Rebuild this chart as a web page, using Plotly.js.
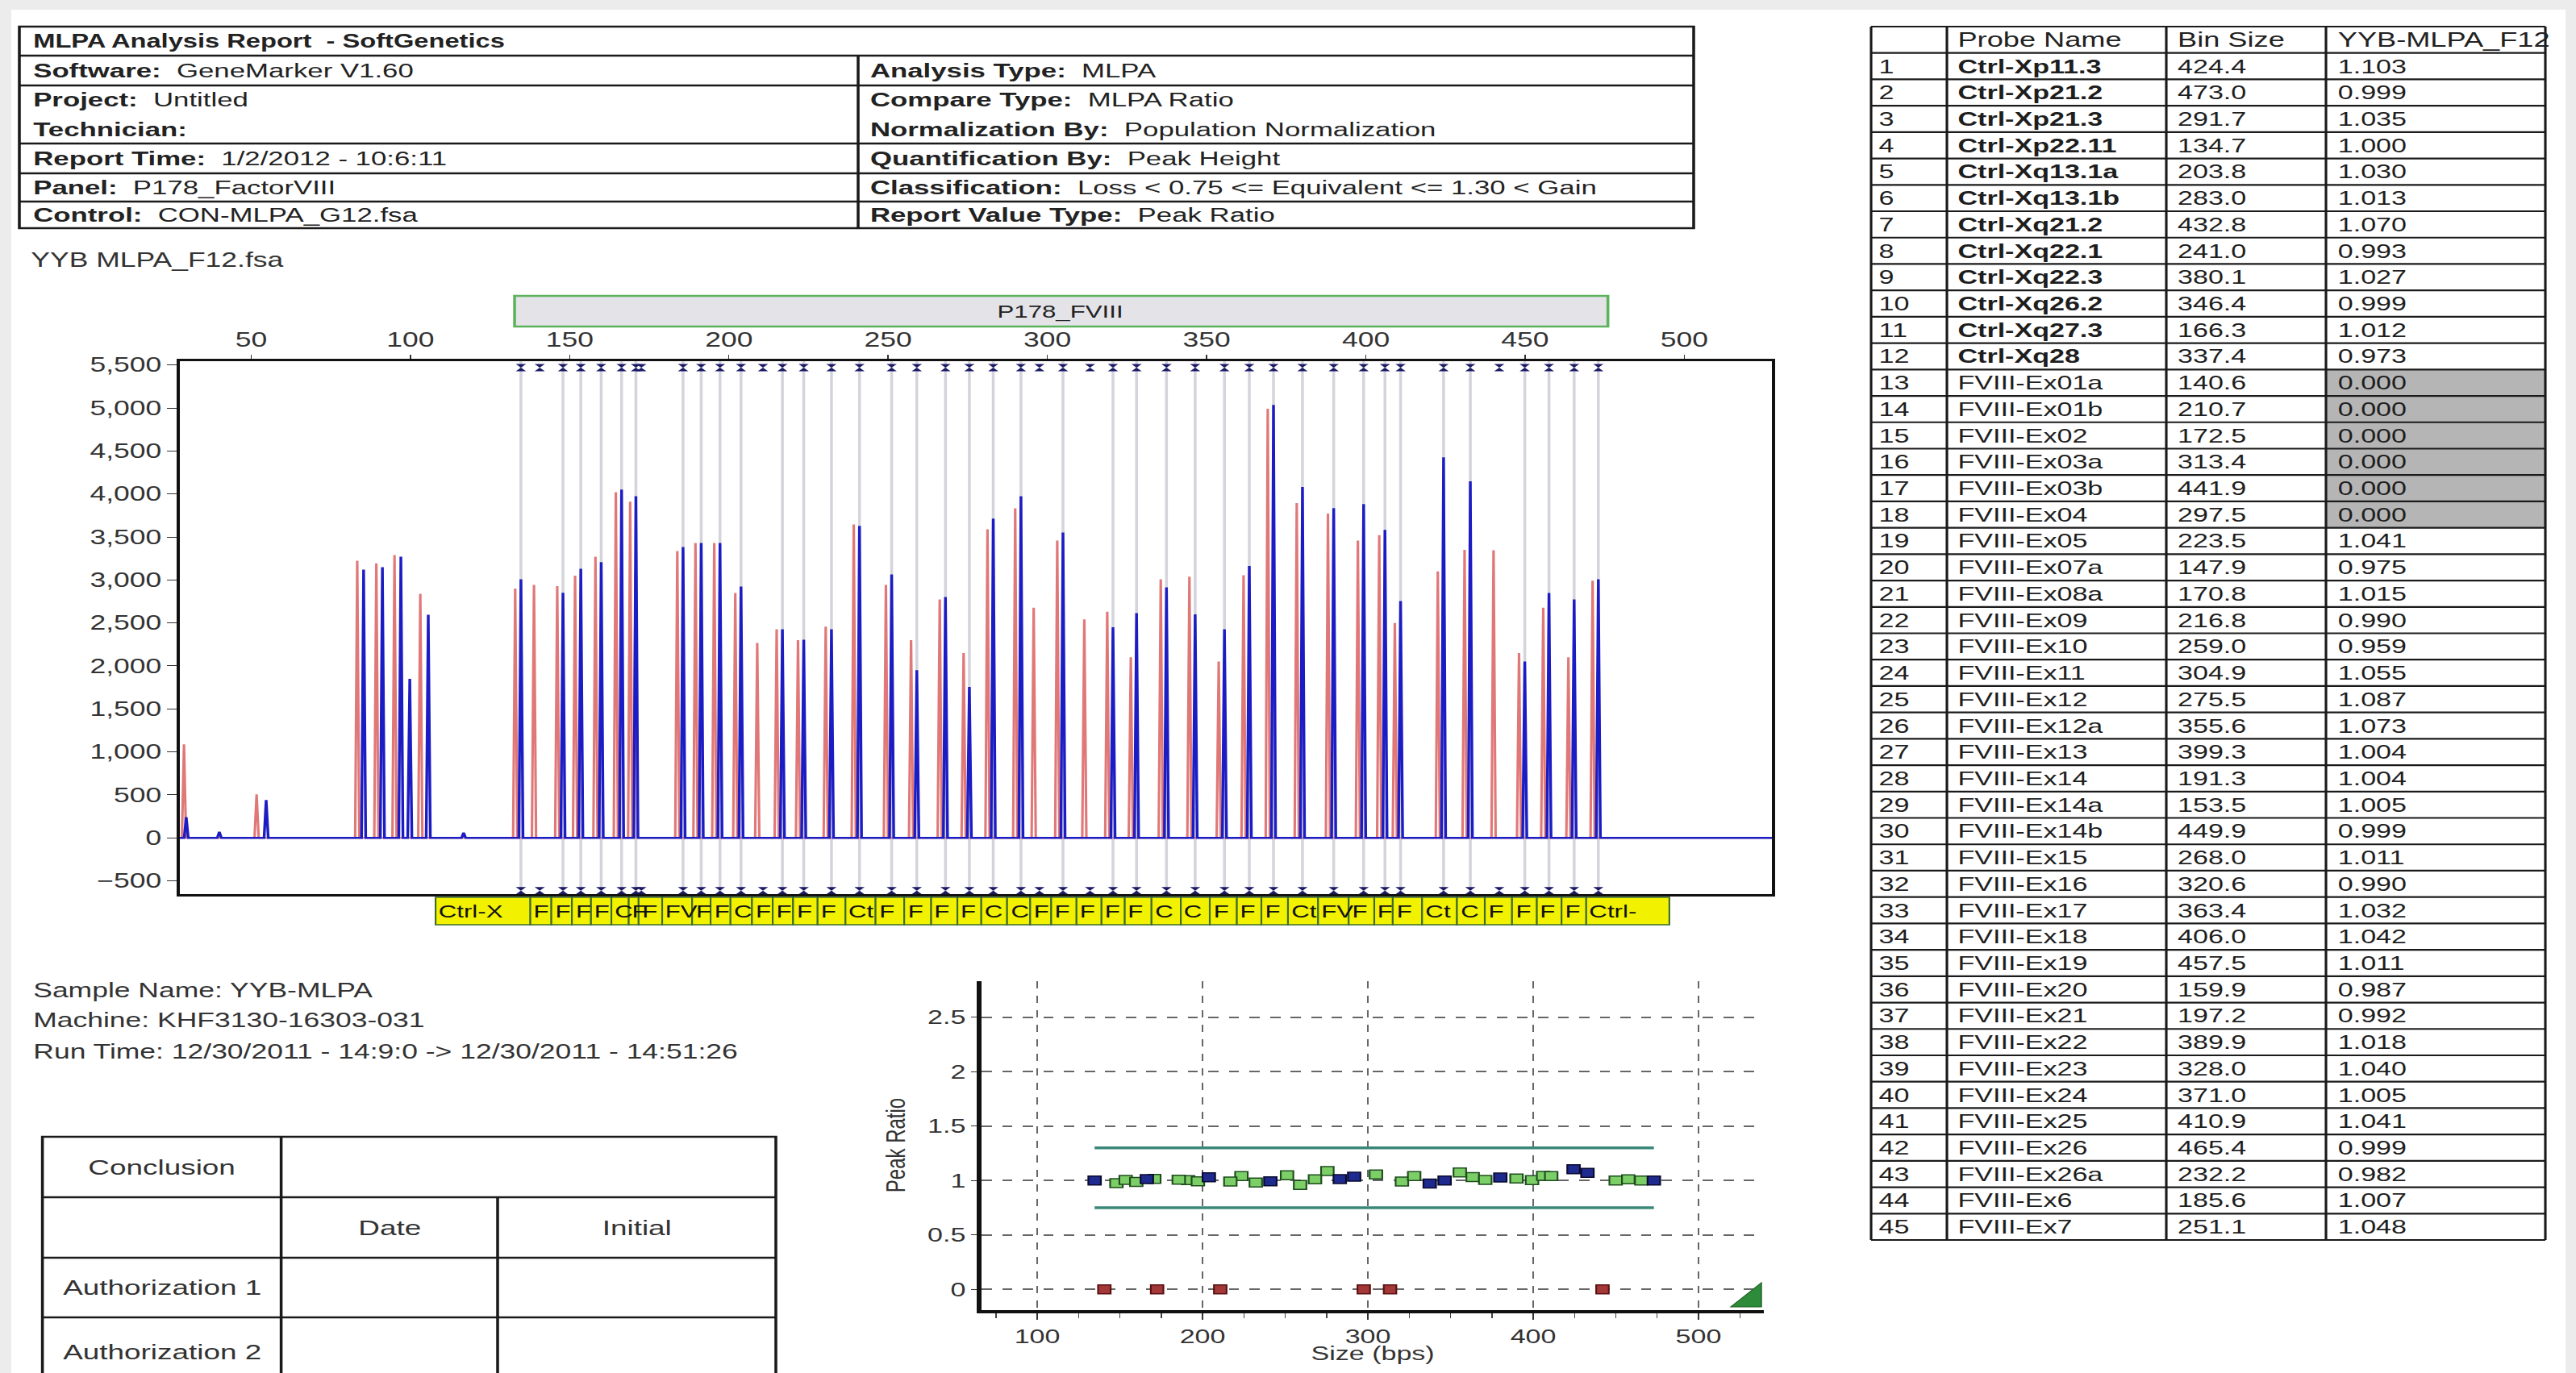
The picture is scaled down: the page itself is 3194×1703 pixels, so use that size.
<!DOCTYPE html>
<html><head><meta charset="utf-8">
<script src="https://cdn.plot.ly/plotly-3.0.1.min.js"></script>
<style>
html,body{margin:0;padding:0;overflow:hidden;background:#ececec;}
#wrap{width:2250px;height:1703px;transform:scaleX(1.419556);transform-origin:0 0;}
</style></head><body><div id="wrap"></div>
<script>
// ---------------- DATA ----------------
const probeNames = ['Ctrl-Xp11.3','Ctrl-Xp21.2','Ctrl-Xp21.3','Ctrl-Xp22.11','Ctrl-Xq13.1a','Ctrl-Xq13.1b','Ctrl-Xq21.2','Ctrl-Xq22.1','Ctrl-Xq22.3','Ctrl-Xq26.2','Ctrl-Xq27.3','Ctrl-Xq28',
 'FVIII-Ex01a','FVIII-Ex01b','FVIII-Ex02','FVIII-Ex03a','FVIII-Ex03b','FVIII-Ex04','FVIII-Ex05','FVIII-Ex07a','FVIII-Ex08a','FVIII-Ex09','FVIII-Ex10','FVIII-Ex11','FVIII-Ex12','FVIII-Ex12a',
 'FVIII-Ex13','FVIII-Ex14','FVIII-Ex14a','FVIII-Ex14b','FVIII-Ex15','FVIII-Ex16','FVIII-Ex17','FVIII-Ex18','FVIII-Ex19','FVIII-Ex20','FVIII-Ex21','FVIII-Ex22','FVIII-Ex23','FVIII-Ex24',
 'FVIII-Ex25','FVIII-Ex26','FVIII-Ex26a','FVIII-Ex6','FVIII-Ex7'];
const binSizes = [424.4,473.0,291.7,134.7,203.8,283.0,432.8,241.0,380.1,346.4,166.3,337.4,
 140.6,210.7,172.5,313.4,441.9,297.5,223.5,147.9,170.8,216.8,259.0,304.9,275.5,355.6,
 399.3,191.3,153.5,449.9,268.0,320.6,363.4,406.0,457.5,159.9,197.2,389.9,328.0,371.0,
 410.9,465.4,232.2,185.6,251.1];
const peakRatios = [1.103,0.999,1.035,1.000,1.030,1.013,1.070,0.993,1.027,0.999,1.012,0.973,
 0.000,0.000,0.000,0.000,0.000,0.000,1.041,0.975,1.015,0.990,0.959,1.055,1.087,1.073,
 1.004,1.004,1.005,0.999,1.011,0.990,1.032,1.042,1.011,0.987,0.992,1.018,1.040,1.005,
 1.041,0.999,0.982,1.007,1.048];
// peak heights (RFU), same order as probeNames
const sampleHeights = [4427,3008,3974,3008,2924,3714,4146,3630,4082,2600,4050,2915,
 0,0,0,0,0,0,2305,2850,3974,2427,1950,3552,1755,2427,
 3881,3430,3130,2050,2802,2450,3162,3583,2849,3206,3430,3834,2614,5036,
 2755,2774,2427,3383,3064];
const controlHeights = [3100,2992,3834,2900,2849,3589,3350,3646,3894,3039,4021,3008,
 2943,2268,3102,2540,3346,2678,2300,2928,3910,2427,2300,3458,2150,2050,
 3458,3430,3050,2150,2774,2630,3054,3520,2678,3271,3430,3772,2100,4990,
 2500,2100,2456,3336,2943];
// non-probe peaks (Q- and D-fragments etc.)
const extraSampleSizes = [29.6,40.0,54.7,85.3,91.2,97.0,99.8,105.6,116.7];
const extraSampleHeights = [240,70,440,3121,3149,3271,1850,2596,60];
const extraControlSizes = [28.9,51.7,83.3,89.3,95.0,103.1];
const extraControlHeights = [1087,506,3224,3193,3290,2840];

const reportTitle = 'MLPA Analysis Report  - SoftGenetics';
const headerLeftLabels = ['Software:','Project:','Technician:','Report Time:','Panel:','Control:'];
const headerLeftValues = ['GeneMarker V1.60','Untitled','','1/2/2012 - 10:6:11','P178_FactorVIII','CON-MLPA_G12.fsa'];
const headerRightLabels = ['Analysis Type:','Compare Type:','Normalization By:','Quantification By:','Classification:','Report Value Type:'];
const headerRightValues = ['MLPA','MLPA Ratio','Population Normalization','Peak Height','Loss &lt; 0.75 &lt;= Equivalent &lt;= 1.30 &lt; Gain','Peak Ratio'];
const fileName = 'YYB MLPA_F12.fsa';
const panelName = 'P178_FVIII';
const sampleInfo = ['Sample Name: YYB-MLPA','Machine: KHF3130-16303-031','Run Time: 12/30/2011 - 14:9:0 -&gt; 12/30/2011 - 14:51:26'];
const conclusionRowLabels = ['Conclusion','','Authorization 1','Authorization 2'];
const conclusionColLabels = ['Date','Initial'];
const tableHeader = ['','Probe Name','Bin Size','YYB-MLPA_F12'];
const lossThreshold = 0.75, gainThreshold = 1.30;
const epTicks = [50,100,150,200,250,300,350,400,450,500];
const epYTicks = [-500,0,500,1000,1500,2000,2500,3000,3500,4000,4500,5000,5500];
const ratioXTicks = [100,200,300,400,500];
const ratioYTicks = [0,0.5,1,1.5,2,2.5];

// ---------------- LAYOUT HELPERS ----------------
const FW = 3194, FH = 1703, S = 1.419556, W0 = 2250;
const FONT = 'Liberation Sans, Arial, sans-serif';
const fx = x => x / FW;
const fy = y => 1 - y / FH;
const EP = {l:223, r:2197, t:447.7, b:1109, xr:[27.6,527.5], yr:[-654,5547]};
const RP = {l:1217, r:2187, t:1217, b:1625, xr:[66.3,539.5], yr:[-0.19,2.83]};
const PT = {cols:[2320,2414,2686,2884,3156], pad:[7,11,11,12], t:33, b:1538};
const HT = {l:24, r:2100, div:1064, rows:[33,69,106,178,215,250,283]};
const PXBP = (EP.r-EP.l)/(EP.xr[1]-EP.xr[0]);
const HALF = 0.65, CTRL_SHIFT = -1.8;

const shapes = [], annotations = [];
function txt(text, x, y, size, o) {
  annotations.push(Object.assign({text, x:fx(x), y:fy(y), xref:'paper', yref:'paper', showarrow:false,
    xanchor:'left', yanchor:'middle', font:{family:FONT, size, color:'#222'}}, o||{}));
}
function line(x0,y0,x1,y1,w,c) {
  shapes.push({type:'line', xref:'paper', yref:'paper', x0:fx(x0), y0:fy(y0), x1:fx(x1), y1:fy(y1), line:{color:c||'#1a1a1a', width:w||2.5}});
}

// page
shapes.push({type:'rect', xref:'paper', yref:'paper', x0:fx(14), x1:fx(3181), y0:0, y1:fy(12), fillcolor:'white', line:{width:0}, layer:'below'});

// ---------------- HEADER TABLE ----------------
const hr = HT.rows;
shapes.push({type:'rect', xref:'paper', yref:'paper', x0:fx(HT.l), x1:fx(HT.r), y0:fy(hr[6]), y1:fy(hr[0]), line:{color:'#1a1a1a', width:2.5}});
[hr[1],hr[2],hr[3],hr[4],hr[5]].forEach(y => line(HT.l, y, HT.r, y));
line(HT.div, hr[1], HT.div, hr[6]);
txt('<b>'+reportTitle+'</b>', 38, 51, 23);
const hy = [87.5, 124, 160, 196.5, 232.5, 266.5];
headerLeftLabels.forEach((l,i)=> txt('<b>'+l+'</b>  '+headerLeftValues[i], 38, hy[i], 24.5));
headerRightLabels.forEach((l,i)=> txt('<b>'+l+'</b>  '+headerRightValues[i], 1076, hy[i], 24.5));
txt(fileName, 36, 322, 25, {font:{family:FONT,size:25,color:'#333'}});

// ---------------- PROBE TABLE (cells drawn as shapes + text) ----------------
const nRows = probeNames.length + 1;
const RH = (PT.b - PT.t) / nRows;
const C = PT.cols;
peakRatios.forEach((r,i) => {
  if (r < lossThreshold) shapes.push({type:'rect', xref:'paper', yref:'paper', x0:fx(C[3]), x1:fx(C[4]),
    y0:fy(PT.t+(i+2)*RH), y1:fy(PT.t+(i+1)*RH), fillcolor:'#b5b5b5', line:{width:0}});
});
for (let k=0; k<=nRows; k++) line(C[0], PT.t+k*RH, C[4], PT.t+k*RH, 2.2);
C.forEach(x => line(x, PT.t, x, PT.b, 2.2));
tableHeader.forEach((h,c) => { if (h) txt(h, C[c]+PT.pad[c], PT.t+RH/2, 25.5, {font:{family:FONT,size:25.5,color:'#222'}}); });
probeNames.forEach((n,i) => {
  const yc = PT.t + (i+1.5)*RH;
  const ctrl = n.indexOf('Ctrl') === 0;
  const cells = [String(i+1), ctrl ? '<b>'+n+'</b>' : n, binSizes[i].toFixed(1), peakRatios[i].toFixed(3)];
  cells.forEach((v,c) => txt(v, C[c]+PT.pad[c], yc, 24, {font:{family:FONT,size:24,color:'#1e1e1e'}}));
});

// ---------------- ELECTROPHEROGRAM ----------------
const order = binSizes.map((b,i)=>i).sort((a,b)=>binSizes[a]-binSizes[b]);
const isDel = i => peakRatios[i] < lossThreshold;
const isCtrl = i => probeNames[i].indexOf('Ctrl') === 0;

const gx=[], gy=[];
order.forEach(i => { if (!isDel(i)) { gx.push(binSizes[i], binSizes[i], null); gy.push(EP.yr[0], EP.yr[1], null); } });

function peakLine(sizes, heights) {
  const pk = sizes.map((s,i)=>[s, heights[i]]).filter(p=>p[1]>0).sort((a,b)=>a[0]-b[0]);
  const xs=[EP.xr[0]], ys=[0];
  pk.forEach(([x,h]) => { xs.push(x-HALF, x, x+HALF); ys.push(0, h, 0); });
  xs.push(EP.xr[1]); ys.push(0);
  return {xs, ys};
}
const ctrlLine = peakLine(binSizes.map(b=>b+CTRL_SHIFT).concat(extraControlSizes), controlHeights.concat(extraControlHeights));
const sampLine = peakLine(binSizes.concat(extraSampleSizes), sampleHeights.concat(extraSampleHeights));

const bMin = Math.min(...binSizes), bMax = Math.max(...binSizes);
shapes.push({type:'rect', xref:'x', yref:'paper', x0:bMin-2, x1:bMax+3, y0:fy(405), y1:fy(367), fillcolor:'#e4e3e8', line:{color:'#5db35d', width:2.5}});
annotations.push({text:panelName, xref:'x', yref:'paper', x:(bMin+bMax)/2, y:fy(386), showarrow:false, xanchor:'center', yanchor:'middle', font:{family:FONT,size:22,color:'#222'}});

const LB0 = 107.9, LB1 = 495.3;
const charW = 22*0.55*S;
order.forEach((i,k) => {
  const left = k===0 ? LB0 : (binSizes[order[k-1]]+binSizes[i])/2;
  const right = k===order.length-1 ? LB1 : (binSizes[i]+binSizes[order[k+1]])/2;
  shapes.push({type:'rect', xref:'x', yref:'paper', x0:left, x1:right, y0:fy(1147), y1:fy(1113), fillcolor:'#f2f200', line:{color:'#3d6b2a', width:1.5}});
  const wpx = (right-left)*PXBP;
  const n = Math.floor((wpx-2)/charW);
  if (wpx >= 11) {
    const t = probeNames[i].slice(0, Math.max(1,n));
    annotations.push({text:t, xref:'x', yref:'paper', x:left, xshift:1, y:fy(1130), showarrow:false, xanchor:'left', yanchor:'middle', font:{family:FONT,size:22,color:'#111'}});
  }
});

// ---------------- RATIO PLOT ----------------
const groups = {ctrl:{x:[],y:[]}, fv:{x:[],y:[]}, del:{x:[],y:[]}};
binSizes.forEach((b,i) => { const g = isDel(i) ? groups.del : (isCtrl(i) ? groups.ctrl : groups.fv); g.x.push(b); g.y.push(peakRatios[i]); });
txt('Peak Ratio', 1109, (RP.t+RP.b)/2, 24, {textangle:-90, xanchor:'center', font:{family:FONT,size:24,color:'#333'}});
txt('Size (bps)', (RP.l+RP.r)/2, 1678, 24, {xanchor:'center', font:{family:FONT,size:24,color:'#333'}});
shapes.push({type:'path', xref:'paper', yref:'paper', path:`M ${fx(2146)},${fy(1621)} L ${fx(2184)},${fy(1621)} L ${fx(2184)},${fy(1591)} Z`, fillcolor:'#2e8b3a', line:{color:'#1d5e25', width:1}});

// ---------------- SAMPLE INFO & CONCLUSION ----------------
[1228,1265,1304].forEach((y,k)=> txt(sampleInfo[k], 38, y, 25, {font:{family:FONT,size:25,color:'#333'}}));
const CT = {l:52.6, r:962, c1:348.6, c2:617, rows:[1410,1485,1560,1634,1720]};
shapes.push({type:'rect', xref:'paper', yref:'paper', x0:fx(CT.l), x1:fx(CT.r), y0:fy(CT.rows[4]), y1:fy(CT.rows[0]), line:{color:'#1a1a1a', width:2.5}});
[CT.rows[1],CT.rows[2],CT.rows[3]].forEach(y => line(CT.l, y, CT.r, y));
line(CT.c1, CT.rows[0], CT.c1, CT.rows[4]);
line(CT.c2, CT.rows[1], CT.c2, CT.rows[4]);
conclusionRowLabels.forEach((t,k) => { if (t) txt(t, (CT.l+CT.c1)/2, (CT.rows[k]+CT.rows[k+1])/2, 26, {xanchor:'center', font:{family:FONT,size:26,color:'#333'}}); });
txt(conclusionColLabels[0], (CT.c1+CT.c2)/2, (CT.rows[1]+CT.rows[2])/2, 26, {xanchor:'center', font:{family:FONT,size:26,color:'#333'}});
txt(conclusionColLabels[1], (CT.c2+CT.r)/2, (CT.rows[1]+CT.rows[2])/2, 26, {xanchor:'center', font:{family:FONT,size:26,color:'#333'}});

// ---------------- TRACES ----------------
const data = [
  {type:'scatter', mode:'lines', x:gx, y:gy, xaxis:'x', yaxis:'y', line:{color:'#d4d4dc', width:2.5}, hoverinfo:'skip'},
  {type:'scatter', mode:'lines', x:ctrlLine.xs, y:ctrlLine.ys, xaxis:'x', yaxis:'y', line:{color:'#e07878', width:2.2}, hoverinfo:'skip'},
  {type:'scatter', mode:'lines', x:sampLine.xs, y:sampLine.ys, xaxis:'x', yaxis:'y', line:{color:'#1c1cc4', width:2.4}, hoverinfo:'skip'},
  {type:'scatter', mode:'markers', x:order.map(i=>binSizes[i]), y:order.map(()=>5470), xaxis:'x', yaxis:'y', cliponaxis:false, marker:{symbol:'hourglass', size:9, color:'#1a1a66'}, hoverinfo:'skip'},
  {type:'scatter', mode:'markers', x:order.map(i=>binSizes[i]), y:order.map(()=>-615), xaxis:'x', yaxis:'y', cliponaxis:false, marker:{symbol:'hourglass', size:9, color:'#1a1a66'}, hoverinfo:'skip'},
  {type:'scatter', mode:'lines', x:[bMin,bMax], y:[gainThreshold,gainThreshold], xaxis:'x2', yaxis:'y2', line:{color:'#3b8878', width:3.5}, hoverinfo:'skip'},
  {type:'scatter', mode:'lines', x:[bMin,bMax], y:[lossThreshold,lossThreshold], xaxis:'x2', yaxis:'y2', line:{color:'#3b8878', width:3.5}, hoverinfo:'skip'},
  {type:'scatter', mode:'markers', x:groups.fv.x, y:groups.fv.y, xaxis:'x2', yaxis:'y2', marker:{symbol:'square', size:11, color:'#7ccf66', line:{color:'#1e4d1e', width:1.5}}, hoverinfo:'skip'},
  {type:'scatter', mode:'markers', x:groups.ctrl.x, y:groups.ctrl.y, xaxis:'x2', yaxis:'y2', marker:{symbol:'square', size:11, color:'#1f2a8f', line:{color:'#0a0a30', width:1.5}}, hoverinfo:'skip'},
  {type:'scatter', mode:'markers', x:groups.del.x, y:groups.del.y, xaxis:'x2', yaxis:'y2', cliponaxis:false, marker:{symbol:'square', size:11, color:'#a33838', line:{color:'#5a1010', width:1.5}}, hoverinfo:'skip'}
];

const layout = {
  width:W0, height:FH, margin:{l:0,r:0,t:0,b:0}, paper_bgcolor:'#ececec', plot_bgcolor:'white', showlegend:false,
  font:{family:FONT, color:'#222'},
  xaxis:{domain:[fx(EP.l), fx(EP.r)], range:EP.xr, side:'top', anchor:'y', tickvals:epTicks, ticks:'outside', ticklen:5, tickcolor:'#333',
    tickfont:{family:FONT,size:25,color:'#333'}, showline:true, mirror:true, linecolor:'#111', linewidth:3, showgrid:false, zeroline:false},
  yaxis:{domain:[fy(EP.b), fy(EP.t)], range:EP.yr, anchor:'x', tickvals:epYTicks, tickformat:',d', ticks:'outside', ticklen:8, tickcolor:'#333',
    tickfont:{family:FONT,size:25,color:'#333'}, showline:true, mirror:true, linecolor:'#111', linewidth:3, showgrid:false, zeroline:false},
  xaxis2:{domain:[fx(RP.l), fx(RP.r)], range:RP.xr, anchor:'y2', tickvals:ratioXTicks, ticks:'outside', ticklen:8, tickcolor:'#333',
    tickfont:{family:FONT,size:24,color:'#333'}, showline:true, linecolor:'#111', linewidth:4, showgrid:true, gridcolor:'#666', griddash:'dash', gridwidth:2, zeroline:false,
    minor:{dtick:25, tick0:0, ticks:'outside', ticklen:6, tickcolor:'#444', showgrid:false}},
  yaxis2:{domain:[fy(RP.b), fy(RP.t)], range:RP.yr, anchor:'x2', tickvals:ratioYTicks, ticktext:ratioYTicks.map(String), ticks:'outside', ticklen:5, tickcolor:'#333',
    tickfont:{family:FONT,size:24,color:'#333'}, showline:true, linecolor:'#111', linewidth:4, showgrid:true, gridcolor:'#666', griddash:'dash', gridwidth:2, zeroline:false},
  shapes, annotations
};
Plotly.newPlot('wrap', data, layout, {staticPlot:true});
</script></body></html>
